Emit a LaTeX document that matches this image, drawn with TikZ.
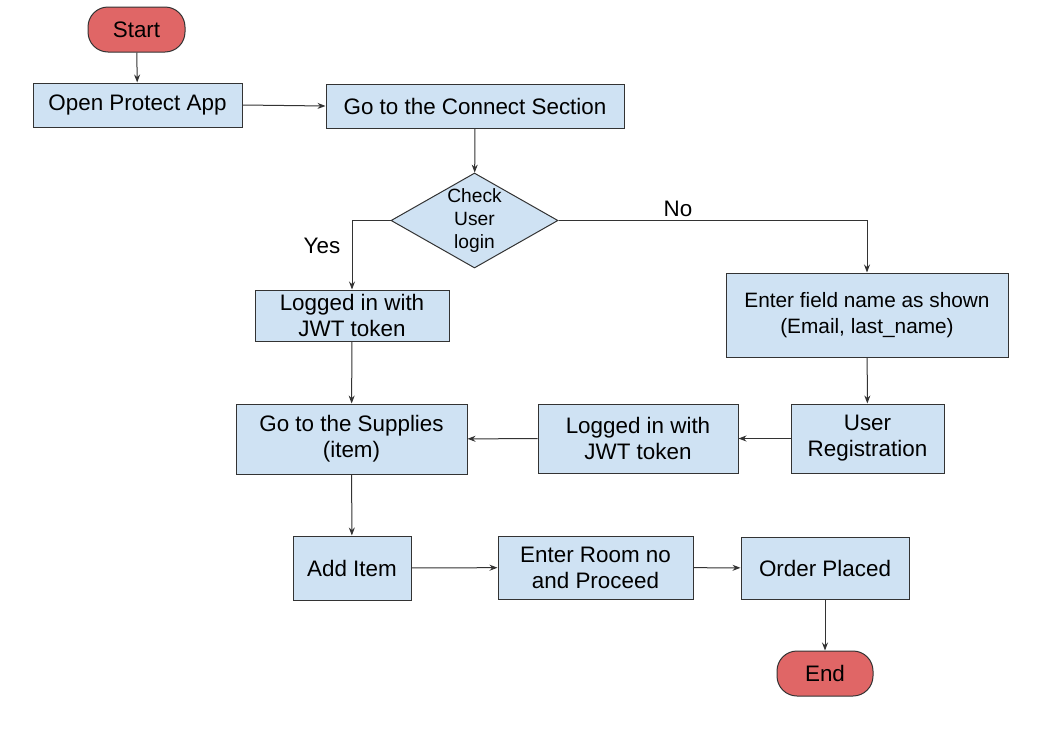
\documentclass[tikz,border=0pt]{standalone}
\usepackage{fontspec}
\setmainfont{Liberation Sans}
\usetikzlibrary{shapes.geometric,arrows.meta}
\definecolor{boxfill}{HTML}{CFE2F3}
\definecolor{termfill}{HTML}{E06666}
\definecolor{edge}{HTML}{333333}
\tikzset{
  box/.style={draw=edge, line width=1pt, fill=boxfill, minimum width=#1, align=center, inner sep=0pt, font=\fontsize{22.4}{26}\selectfont},
  term/.style={draw=edge, line width=1pt, fill=termfill, rounded corners=20pt, minimum width=97pt, minimum height=45pt, inner sep=0pt, font=\fontsize{22.4}{26}\selectfont},
  dia/.style={draw=edge, line width=1pt, fill=boxfill, diamond, aspect=1.76, minimum width=167pt, minimum height=95pt, inner sep=0pt, align=center, font=\fontsize{19.2}{23}\selectfont},
  conn/.style={draw=edge, line width=1pt, -{Stealth[length=8pt,width=6pt]}},
  lbl/.style={font=\fontsize{22.4}{26}\selectfont}
}
\begin{document}
\begin{tikzpicture}[x=1pt,y=-1pt]
\useasboundingbox (0,0) rectangle (1053,734);
\node[term] (start) at (136.5,29.5) {Start};
\node[box=209pt, minimum height=44pt] (open) at (137.5,105) {Open Protect App};
\node[box=298pt, minimum height=44pt] (connect) at (475,106) {Go to the Connect Section};
\node[dia] (check) at (474.5,220.5) {Check\\User\\login};
\node[box=194pt, minimum height=51pt] (jwt1) at (352,315.5) {Logged in with\\JWT token};
\node[box=282pt, minimum height=84pt, font=\fontsize{20.8}{26}\selectfont] (field) at (867,315) {Enter field name as shown\\(Email, last\_name)};
\node[box=231pt, minimum height=70pt] (supplies) at (351.5,439) {Go to the Supplies\\(item)};
\node[box=200pt, minimum height=69pt] (jwt2) at (638,438.5) {Logged in with\\JWT token};
\node[box=153pt, minimum height=69pt] (reg) at (867.5,438.5) {User\\Registration};
\node[box=118pt, minimum height=64pt] (add) at (352,568) {Add Item};
\node[box=195pt, minimum height=63pt] (room) at (595.5,567.5) {Enter Room no\\and Proceed};
\node[box=168pt, minimum height=62pt] (order) at (825,568) {Order Placed};
\node[term, minimum width=96pt] (end) at (825,673.5) {End};

\node[lbl] (yes) at (322,246) {Yes};
\node[lbl] (no) at (678,209) {No};

\draw[conn] (start) -- (open);
\draw[conn] (open.east) -- (connect.west);
\draw[conn] (connect) -- (check);
\draw[conn] (check.west) -| (jwt1.north);
\draw[conn] (check.east) -| (field.north);
\draw[conn] (jwt1) -- (supplies);
\draw[conn] (field) -- (reg);
\draw[conn] (reg) -- (jwt2);
\draw[conn] (jwt2) -- (supplies);
\draw[conn] (supplies) -- (add);
\draw[conn] (add) -- (room);
\draw[conn] (room) -- (order);
\draw[conn] (order) -- (end);
\end{tikzpicture}
\end{document}
